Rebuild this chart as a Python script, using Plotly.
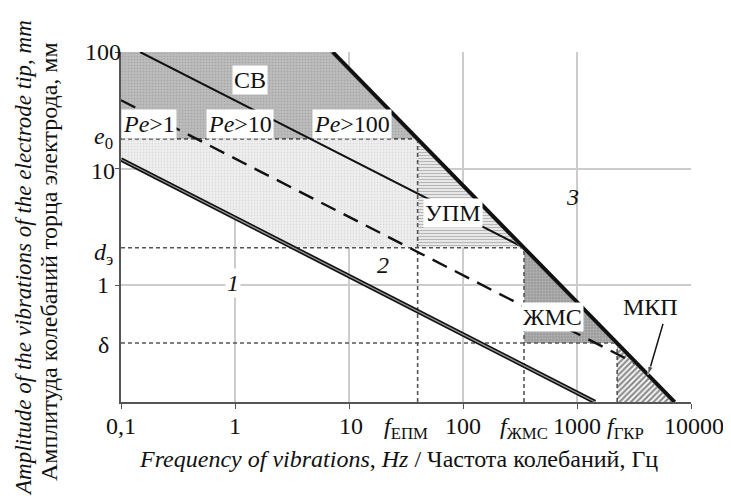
import math
import plotly.graph_objects as go

# ---- data (frequency Hz, amplitude mm) ----
f_epm, f_zhms, f_gkr = 40, 343, 2250          # vertical boundaries
e0, d_e, delta = 18, 2.1, 0.32                # horizontal boundaries

line1_f = [0.1, 1440]; line1_a = [12, 0.1]            # line 1 (double)
line2_f = [0.1, 3480]; line2_a = [38.6, 0.207]        # dashed line 2
pe_f = [0.147, 343];   pe_a = [100, 2.1]              # solid Pe line
line3_f = [7.2, 7200]; line3_a = [100, 0.1]           # line 3 (boundary)

cb_f = [0.1, 0.1, 7.2, f_epm];            cb_a = [e0, 100, 100, e0]
light_f = [0.1, f_epm, f_epm, 3.27, 0.1]; light_a = [e0, e0, d_e, d_e, 12]
upm_f = [f_epm, f_epm, f_zhms];           upm_a = [e0, d_e, d_e]
zhms_f = [f_zhms, f_zhms, f_gkr];         zhms_a = [d_e, delta, delta]
mkp_f = [f_gkr, f_gkr, 7200];             mkp_a = [delta, 0.1, 0.1]

arrow_f = [5680, 4198]; arrow_a = [0.467, 0.1706]

x_ticks = [0.1, 1, 10, 100, 1000, 10000]
x_ticktext = ["0,1", "1", "10", "100", "1000", "10000"]
y_ticks = [1, 10, 100]
y_ticktext = ["1", "10", "100"]
y_special = [e0, d_e, delta]
y_special_text = ["<i>e</i><sub>0</sub>", "<i>d</i><sub>э</sub>", "δ"]
x_special = [f_epm, f_zhms, f_gkr]
x_special_text = ["<i>f</i><sub>ЕПМ</sub>", "<i>f</i><sub>ЖМС</sub>", "<i>f</i><sub>ГКР</sub>"]

FONT = "Liberation Serif"
FS = 24

fig = go.Figure()

def region(fx, ay, fill, pattern):
    fig.add_trace(go.Scatter(x=fx + fx[:1], y=ay + ay[:1], mode="lines",
                             line=dict(width=0), fill="toself",
                             fillcolor=fill, fillpattern=pattern,
                             hoverinfo="skip", showlegend=False))

region(cb_f, cb_a, "#b9b9b9",
       dict(shape=".", bgcolor="#bdbdbd", fgcolor="#959595", size=3, solidity=0.35))
region(light_f, light_a, "#f0f0f0",
       dict(shape=".", bgcolor="#f0f0f0", fgcolor="#c8c8c8", size=3, solidity=0.3))
region(upm_f, upm_a, "#ffffff",
       dict(shape="-", bgcolor="#f2f2f2", fgcolor="#7a7a7a", size=3, solidity=0.45))
region(zhms_f, zhms_a, "#a5a5a5",
       dict(shape=".", bgcolor="#9c9c9c", fgcolor="#d0d0d0", size=3, solidity=0.35))
region(mkp_f, mkp_a, "#ffffff",
       dict(shape="/", bgcolor="#ffffff", fgcolor="#1a1a1a", size=4, solidity=0.55))

def seg(fx, ay, color, width, dash="solid"):
    fig.add_trace(go.Scatter(x=fx, y=ay, mode="lines",
                             line=dict(color=color, width=width, dash=dash),
                             hoverinfo="skip", showlegend=False))

# dashed boundary lines
DASH = "4px,3px"
seg([0.1, f_epm], [e0, e0], "#555555", 1.6, DASH)
seg([0.1, f_zhms], [d_e, d_e], "#555555", 1.6, DASH)
seg([0.1, f_gkr], [delta, delta], "#555555", 1.6, DASH)
seg([f_epm, f_epm], [0.1, e0], "#555555", 1.6, DASH)
seg([f_zhms, f_zhms], [0.1, d_e], "#555555", 1.6, DASH)
seg([f_gkr, f_gkr], [0.1, delta], "#555555", 1.6, DASH)

# main lines
seg(line1_f, line1_a, "#111111", 4.5)
seg(line1_f, line1_a, "#9a9a9a", 1.2)
seg(line2_f, line2_a, "#111111", 2.4, "16px,9px")
seg(pe_f, pe_a, "#111111", 2.0)
# line 3: thin grey companion on its lower-left side, then the thick black line
seg([v / 1.05 for v in line3_f], line3_a, "#8a8a8a", 1.3)
seg(line3_f, line3_a, "#111111", 3.8)

# arrow for МКП
fig.add_trace(go.Scatter(x=arrow_f, y=arrow_a, mode="lines+markers",
                         line=dict(color="#111111", width=1.5),
                         marker=dict(symbol=["line-ew", "arrow"], size=[0, 9],
                                     angleref="previous", color="#111111"),
                         hoverinfo="skip", showlegend=False))

L = math.log10
anns = []

def label(f, a, text, bg="white", size=FS, italic=False):
    t = f"<i>{text}</i>" if italic else text
    anns.append(dict(x=L(f), y=L(a), xref="x", yref="y", text=t, showarrow=False,
                     font=dict(family=FONT, size=size, color="#111111"),
                     bgcolor=bg, borderpad=1))

label(1.36, 57, "СВ")
label(0.176, 24, "<i>Pe</i>&gt;1")
label(1.1, 24, "<i>Pe</i>&gt;10")
label(10.6, 24, "<i>Pe</i>&gt;100")
label(81.7, 4.16, "УПМ")
label(615, 0.536, "ЖМС")
label(4457, 0.652, "МКП", bg="rgba(0,0,0,0)")
label(0.96, 1.05, "1", italic=True)
label(19.9, 1.49, "2", italic=True, bg="rgba(0,0,0,0)")
label(904, 5.7, "3", italic=True, bg="rgba(0,0,0,0)")

# y tick labels (centred in the gutter, as in the reference)
for val, txt, ys in list(zip(y_ticks, y_ticktext, [0, -2, 0])) + \
        list(zip(y_special, y_special_text, [1, -6, -2])):
    anns.append(dict(x=0, y=L(val), xref="paper", yref="y", xanchor="center",
                     yanchor="middle", xshift=-18, yshift=ys, text=txt, showarrow=False,
                     font=dict(family=FONT, size=FS, color="#111111")))

# x tick labels
for val, txt, xs in list(zip(x_ticks, x_ticktext, [0, 0, 2, 0, 0, 3])) + \
        list(zip(x_special, x_special_text, [-12, 0, 8])):
    anns.append(dict(x=L(val), y=0, xref="x", yref="paper", xanchor="center",
                     yanchor="top", yshift=-9, xshift=xs, text=txt, showarrow=False,
                     font=dict(family=FONT, size=FS, color="#111111")))

# axis titles
anns.append(dict(x=0.5, y=0, xref="paper", yref="paper", xanchor="center",
                 yanchor="middle", xshift=-8, yshift=-57, showarrow=False,
                 text="<i>Frequency of vibrations</i>, <i>Hz</i> / Частота колебаний, Гц",
                 font=dict(family=FONT, size=FS, color="#111111")))
anns.append(dict(x=0, y=0.5, xref="paper", yref="paper", xanchor="center",
                 yanchor="middle", xshift=-98, yshift=-31, textangle=-90, showarrow=False,
                 text="<i>Amplitude of the vibrations of the electrode tip, mm</i>",
                 font=dict(family=FONT, size=23, color="#111111")))
anns.append(dict(x=0, y=0.5, xref="paper", yref="paper", xanchor="center",
                 yanchor="middle", xshift=-72, yshift=-35, textangle=-90, showarrow=False,
                 text="Амплитуда колебаний торца электрода, мм",
                 font=dict(family=FONT, size=FS, color="#111111")))

# the page body adds an 8px offset, so the figure is 8px smaller on each side
fig.update_layout(
    width=723, height=496,
    margin=dict(l=113, r=40, t=44, b=102),
    paper_bgcolor="white", plot_bgcolor="white",
    font=dict(family=FONT, size=FS, color="#111111"),
    annotations=anns,
    showlegend=False,
    xaxis=dict(type="log", range=[-1, 4], tickmode="array", tickvals=x_ticks,
               ticktext=x_ticktext, showticklabels=False, showgrid=True,
               gridcolor="#cccccc", gridwidth=1.5,
               showline=True, linecolor="#555555", linewidth=2, ticks="outside",
               ticklen=5, tickcolor="#555555", zeroline=False),
    yaxis=dict(type="log", range=[-1, 2], tickmode="array", tickvals=y_ticks,
               ticktext=y_ticktext, showticklabels=False, showgrid=True,
               gridcolor="#cccccc", gridwidth=1.5,
               showline=True, linecolor="#555555", linewidth=2, ticks="outside",
               ticklen=4, tickcolor="#555555", zeroline=False),
)

fig.write_html("out.html")
